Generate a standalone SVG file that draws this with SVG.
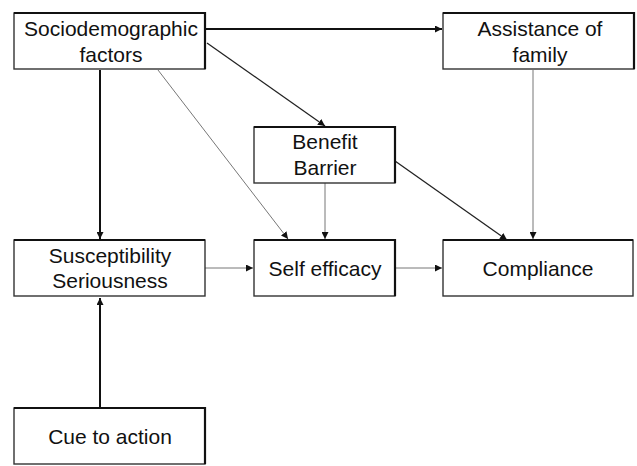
<svg xmlns="http://www.w3.org/2000/svg" width="637" height="466" viewBox="0 0 637 466">
<style>
.box{fill:#fff;stroke:#333;stroke-width:1.4}
.edge{stroke:#111;stroke-width:2.2;fill:none}
.t{font-family:"Liberation Sans",Arial,sans-serif;font-size:21px;fill:#111;text-anchor:middle}
.thick{stroke:#111;stroke-width:2;fill:none}
.mid{stroke:#222;stroke-width:1.3;fill:none}
.thin{stroke:#777;stroke-width:1;fill:none}
</style>
<defs>
<marker id="ah" viewBox="0 0 10 10" refX="10" refY="5" markerWidth="7" markerHeight="7" markerUnits="userSpaceOnUse" orient="auto">
<path d="M0,0 L10,5 L0,10 z" fill="#111"/>
</marker>
</defs>
<rect width="637" height="466" fill="#fff"/>
<g id="connectors">
<line class="thick" x1="205" y1="29" x2="442" y2="29" marker-end="url(#ah)"/>
<line class="thick" x1="100" y1="70" x2="100" y2="239" marker-end="url(#ah)"/>
<line class="thin" x1="158" y1="70" x2="288" y2="239" marker-end="url(#ah)"/>
<line class="mid" x1="207" y1="43" x2="325" y2="126" marker-end="url(#ah)"/>
<line class="thin" x1="325" y1="183" x2="325" y2="239" marker-end="url(#ah)"/>
<line class="mid" x1="395" y1="161" x2="507" y2="240" marker-end="url(#ah)"/>
<line class="thin" x1="533" y1="70" x2="533" y2="239" marker-end="url(#ah)"/>
<line class="thin" x1="205" y1="268" x2="253" y2="268" marker-end="url(#ah)"/>
<line class="thin" x1="395" y1="268" x2="442" y2="268" marker-end="url(#ah)"/>
<line class="thick" x1="100" y1="408" x2="100" y2="298" marker-end="url(#ah)"/>
</g>
<g id="sociodemographic">
<rect class="box" x="14" y="13" width="191" height="56"/>
<path class="edge" d="M14,13 H205 V69"/>
<text class="t" x="111" y="36">Sociodemographic</text>
<text class="t" x="111" y="62">factors</text>
</g>
<g id="assistance">
<rect class="box" x="443" y="13" width="191" height="56"/>
<path class="edge" d="M443,13 H634 V69"/>
<text class="t" x="540" y="36">Assistance of</text>
<text class="t" x="540" y="62">family</text>
</g>
<g id="benefit">
<rect class="box" x="254" y="127" width="141" height="56"/>
<path class="edge" d="M254,127 H395 V183"/>
<text class="t" x="325" y="149">Benefit</text>
<text class="t" x="325" y="175">Barrier</text>
</g>
<g id="susceptibility">
<rect class="box" x="14" y="240" width="191" height="56"/>
<path class="edge" d="M14,240 H205"/>
<text class="t" x="110" y="263">Susceptibility</text>
<text class="t" x="110" y="288">Seriousness</text>
</g>
<g id="selfefficacy">
<rect class="box" x="254" y="240" width="141" height="56"/>
<path class="edge" d="M254,240 H395 V296"/>
<text class="t" x="325" y="276">Self efficacy</text>
</g>
<g id="compliance">
<rect class="box" x="443" y="240" width="190" height="56"/>
<path class="edge" d="M443,240 H633"/>
<text class="t" x="538" y="276">Compliance</text>
</g>
<g id="cue">
<rect class="box" x="14" y="408" width="191" height="56"/>
<path class="edge" d="M14,408 H205 V464"/>
<text class="t" x="110" y="444">Cue to action</text>
</g>
</svg>
